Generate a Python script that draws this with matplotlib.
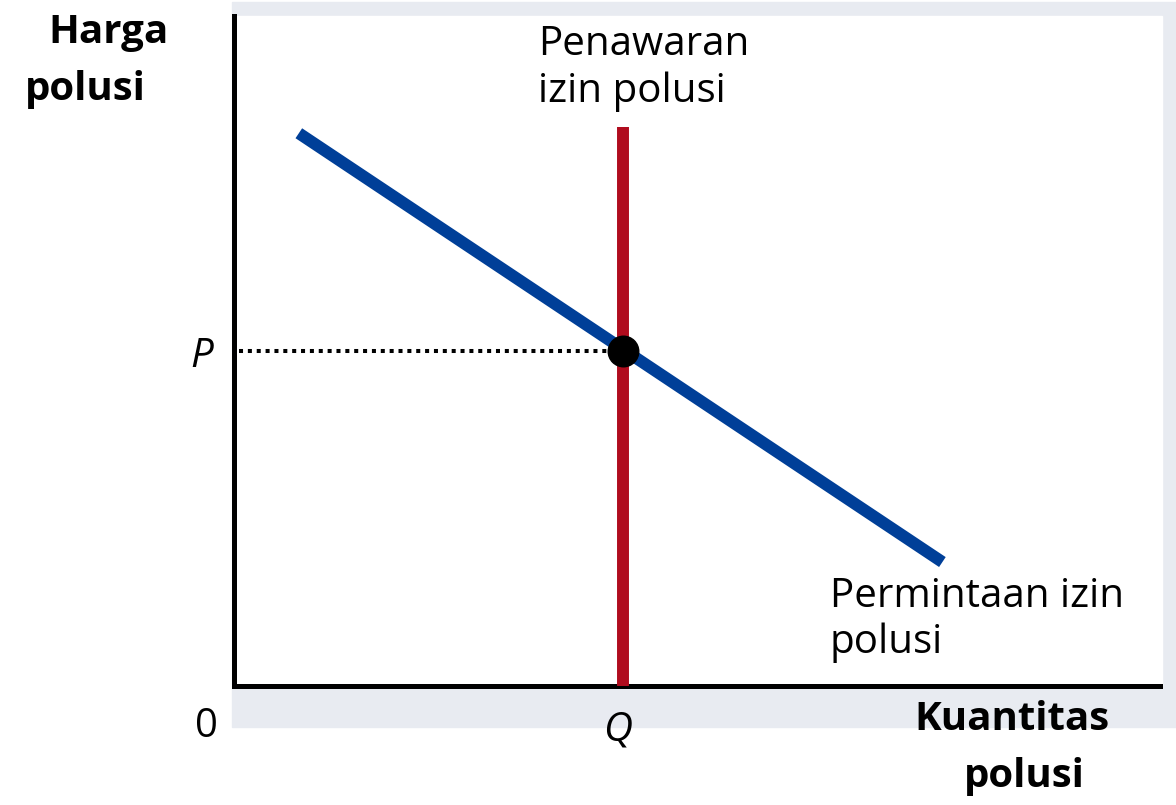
import matplotlib.pyplot as plt
from matplotlib.patches import Rectangle

plt.rcParams['font.family'] = ['Open Sans', 'DejaVu Sans']

# Data for the chart
q_eq = 4.2
p_eq = 5.0
demand_x = [0.7, 7.65]
demand_y = [8.25, 1.85]
supply_x = [q_eq, q_eq]
supply_y = [0, 8.35]

W, H = 1176, 805
fig = plt.figure(figsize=(W / 100, H / 100), dpi=100)

# light shadow frame behind the plot area
fig.patches.append(Rectangle((232 / W, 1 - 727 / H), (1176 - 232) / W, (727 - 2) / H,
                             transform=fig.transFigure, color="#E8EBF1", zorder=-2))
fig.patches.append(Rectangle((236 / W, 1 - 686 / H), (1162 - 236) / W, (686 - 16) / H,
                             transform=fig.transFigure, color="white", zorder=-1))

ax = fig.add_axes([234 / W, 1 - 686 / H, (1160 - 234) / W, (686 - 16) / H])
ax.set_zorder(1)
ax.set_xlim(0, 10)
ax.set_ylim(0, 10)
ax.patch.set_alpha(0)
for s in ["top", "right"]:
    ax.spines[s].set_visible(False)
for s in ["left", "bottom"]:
    ax.spines[s].set_linewidth(3.6)
ax.set_xticks([])
ax.set_yticks([])

ax.plot([0.05, q_eq], [p_eq, p_eq], color="black", lw=2.9,
        linestyle=(0, (1, 1.2)), dash_capstyle="butt", zorder=2)
ax.plot(supply_x, supply_y, color="#B00C1E", lw=8.6, solid_capstyle="butt", zorder=3)
ax.plot(demand_x, demand_y, color="#003F98", lw=8.6, solid_capstyle="butt", zorder=4)
ax.plot([q_eq], [p_eq], "o", color="black", markersize=22, zorder=5)


def label(x, y, s, ha="left", **kw):
    fig.text(x / W, 1 - y / H, s, ha=ha, va="baseline", fontsize=29, **kw)


# axis titles
label(48, 43, "Harga", fontweight="bold")
label(25, 100, "polusi", fontweight="bold")
label(1110, 730, "Kuantitas", ha="right", fontweight="bold")
label(1024, 787, "polusi", ha="center", fontweight="bold")

# curve labels
label(538, 55, "Penawaran")
label(538, 102, "izin polusi")
label(830, 607, "Permintaan izin")
label(830, 653, "polusi")

# point labels
label(213, 367, "P", ha="right", style="italic")
label(218, 737, "0", ha="right")
label(618, 740, "Q", ha="center", style="italic")

fig.savefig("out.png", dpi=100)
